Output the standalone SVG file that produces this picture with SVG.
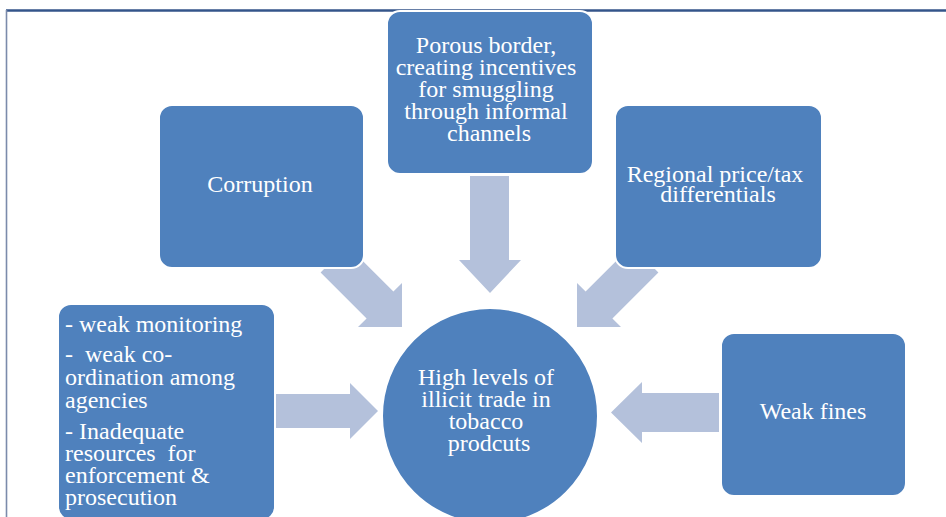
<svg xmlns="http://www.w3.org/2000/svg" width="946" height="517" viewBox="0 0 946 517">
  <style>
    .node { fill: #4f81bd; stroke: #ffffff; stroke-width: 2; }
    .arrow { fill: #b4c1db; stroke: none; }
    .label { font-family: "Liberation Serif", "Times New Roman", serif; font-size: 24px; fill: #ffffff; text-anchor: middle; }
    .list { font-family: "Liberation Serif", "Times New Roman", serif; font-size: 24px; fill: #ffffff; white-space: pre; }
  </style>

  <!-- page frame -->
  <g id="frame">
    <line x1="6" y1="10.5" x2="946" y2="10.5" stroke="#34558a" stroke-width="2.4"/>
    <line x1="6.5" y1="10" x2="6.5" y2="517" stroke="#7b8bab" stroke-width="1.6"/>
  </g>

  <!-- block arrows pointing at the central circle -->
  <g id="connectors">
    <polygon class="arrow" points="347.4,245.6 393.4,291.6 402,283 402,327 358,327 366.6,318.4 320.6,272.4"/>
    <polygon class="arrow" points="470,176 509,176 509,260 521,260 490,293 459,260 470,260"/>
    <polygon class="arrow" points="631.6,245.6 585.6,291.6 577,283 577,327 621,327 612.4,318.4 658.4,272.4"/>
    <polygon class="arrow" points="276,394 350,394 350,383 378,411 350,439 350,428 276,428"/>
    <polygon class="arrow" points="719,393 642,393 642,382 611,412.5 642,443 642,432 719,432"/>
  </g>

  <g id="corruption">
    <rect class="node" x="159" y="105" width="205" height="163" rx="13"/>
    <text class="label" x="260" y="192">Corruption</text>
  </g>

  <g id="porous-border">
    <rect class="node" x="387" y="11" width="206" height="163" rx="13"/>
    <text class="label" x="489">
      <tspan x="489" y="53">Porous border,</tspan>
      <tspan x="489" y="75">creating incentives</tspan>
      <tspan x="489" y="97">for smuggling</tspan>
      <tspan x="489" y="119">through informal</tspan>
      <tspan x="489" y="141">channels</tspan>
    </text>
  </g>

  <g id="price-differentials">
    <rect class="node" x="615" y="105" width="207" height="163" rx="13"/>
    <text class="label">
      <tspan x="718" y="182">Regional price/tax</tspan>
      <tspan x="718" y="202">differentials</tspan>
    </text>
  </g>

  <g id="weak-enforcement">
    <rect class="node" x="58" y="304" width="217" height="216" rx="13"/>
    <text class="list">
      <tspan x="65" y="332">- weak monitoring</tspan>
      <tspan x="65" y="362">-  weak co-</tspan>
      <tspan x="65" y="385">ordination among</tspan>
      <tspan x="65" y="408">agencies</tspan>
      <tspan x="65" y="439">- Inadequate</tspan>
      <tspan x="65" y="461">resources  for</tspan>
      <tspan x="65" y="483">enforcement &amp;</tspan>
      <tspan x="65" y="505">prosecution</tspan>
    </text>
  </g>

  <g id="illicit-trade">
    <circle class="node" cx="490" cy="416" r="108"/>
    <text class="label">
      <tspan x="489" y="385">High levels of</tspan>
      <tspan x="489" y="407">illicit trade in</tspan>
      <tspan x="489" y="429">tobacco</tspan>
      <tspan x="489" y="451">prodcuts</tspan>
    </text>
  </g>

  <g id="weak-fines">
    <rect class="node" x="721" y="333" width="185" height="163" rx="13"/>
    <text class="label" x="813" y="419">Weak fines</text>
  </g>
</svg>
